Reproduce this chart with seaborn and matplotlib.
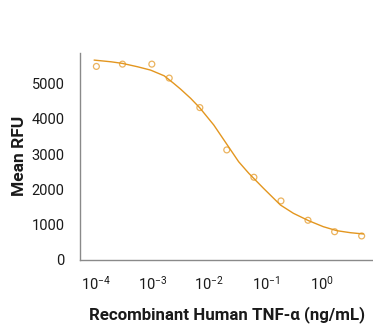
import numpy as np
import pandas as pd
import matplotlib
matplotlib.use("Agg")
import matplotlib.pyplot as plt
import matplotlib.ticker as mticker
import seaborn as sns

# measured points (ng/mL, Mean RFU)
conc = [1e-4, 2.9e-4, 9.6e-4, 1.95e-3, 6.8e-3, 0.0204, 0.0617, 0.186, 0.56, 1.66, 5.0]
rfu = [5480, 5545, 5545, 5150, 4314, 3116, 2342, 1671, 1124, 800, 680]

# fitted curve
fit_logx = [-4.04, -3.74, -3.54, -3.27, -3.04, -2.80, -2.63, -2.51, -2.33, -2.17,
            -1.92, -1.68, -1.48, -1.30, -1.04, -0.74, -0.51, -0.24, 0.02, 0.26,
            0.50, 0.73]
fit_rfu = [5659, 5611, 5566, 5470, 5376, 5215, 5000, 4839, 4576, 4310,
           3820, 3254, 2782, 2453, 2029, 1556, 1321, 1112, 942, 829,
           772, 736]

orange = "#E3961F"

sns.set_style("white")
plt.rcParams["font.family"] = ["Roboto", "DejaVu Sans"]
plt.rcParams["mathtext.fontset"] = "custom"
plt.rcParams["mathtext.rm"] = "Roboto"
plt.rcParams["mathtext.it"] = "Roboto"
plt.rcParams["mathtext.default"] = "regular"

fig = plt.figure(figsize=(3.73, 3.27), dpi=100)
ax = fig.add_axes([0.2145, 0.205, 0.7825, 0.634])

fit = pd.DataFrame({"x": np.power(10.0, fit_logx), "y": fit_rfu})
pts = pd.DataFrame({"x": conc, "y": rfu})

sns.lineplot(data=fit, x="x", y="y", ax=ax, color=orange, lw=1.0,
             sort=False, estimator=None)
sns.scatterplot(data=pts, x="x", y="y", ax=ax, s=18, marker="o",
                facecolor="none", edgecolor="#EBB35E", linewidth=0.9)

ax.set_xscale("log")
ax.set_xlim(10 ** -4.29, 10 ** 0.88)
ax.set_ylim(0, 5870)
ax.set_xticks([1e-4, 1e-3, 1e-2, 1e-1, 1e0])
ax.set_xticklabels(["$10^{-4}$", "$10^{-3}$", "$10^{-2}$", "$10^{-1}$", "$10^{0}$"])
ax.xaxis.set_minor_locator(mticker.LogLocator(base=10, subs=np.arange(2, 10)))
ax.xaxis.set_minor_formatter(mticker.NullFormatter())
ax.set_yticks([0, 1000, 2000, 3000, 4000, 5000])

for side in ["top", "right"]:
    ax.spines[side].set_visible(False)
for side in ["left", "bottom"]:
    ax.spines[side].set_color("#8a8a8a")
    ax.spines[side].set_linewidth(1.0)

ax.tick_params(axis="x", which="major", direction="out", length=3, width=0.8,
               color="#8a8a8a", labelsize=10.5, pad=8, labelcolor="#1a1a1a")
ax.tick_params(axis="x", which="minor", direction="out", length=1.5, width=0.6,
               color="#8a8a8a")
ax.tick_params(axis="y", length=0, labelsize=10.5, pad=11, labelcolor="#1a1a1a")

ax.set_xlabel("Recombinant Human TNF-\u03b1 (ng/mL)", fontsize=12.2,
              fontweight="bold", color="#1a1a1a")
ax.set_ylabel("Mean RFU", fontsize=12.5, fontweight="bold", color="#1a1a1a")
ax.xaxis.set_label_coords(0.505, -0.22)
ax.yaxis.set_label_coords(-0.18, 0.5)

fig.savefig("out.png", dpi=100)
